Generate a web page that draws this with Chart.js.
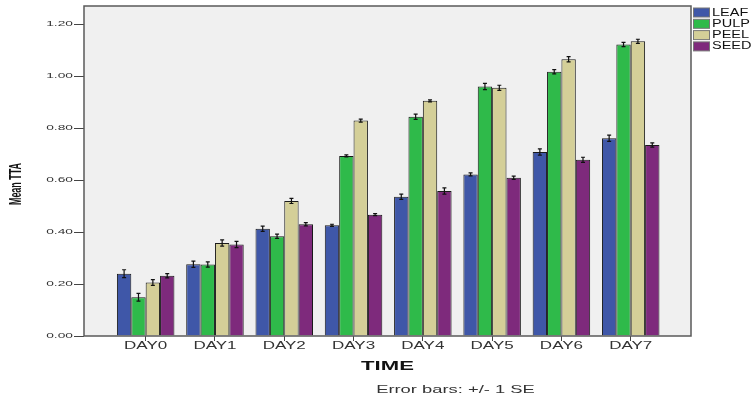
<!DOCTYPE html>
<html>
<head>
<meta charset="utf-8">
<script src="https://cdn.jsdelivr.net/npm/chart.js@4.4.1/dist/chart.umd.min.js"></script>
<style>
  body { margin: 0; background: #fff; }
  #wrap { width: 752px; height: 402px; }
</style>
</head>
<body>
<div id="wrap"><canvas id="myChart" width="752" height="402"></canvas></div>
<script>
// data
const days = ["DAY0", "DAY1", "DAY2", "DAY3", "DAY4", "DAY5", "DAY6", "DAY7"];
const seriesNames = ["LEAF", "PULP", "PEEL", "SEED"];
const leaf = [0.240, 0.276, 0.413, 0.426, 0.536, 0.622, 0.708, 0.761];
const pulp = [0.149, 0.275, 0.384, 0.693, 0.844, 0.960, 1.017, 1.122];
const peel = [0.206, 0.358, 0.520, 0.829, 0.905, 0.955, 1.065, 1.134];
const seed = [0.232, 0.352, 0.430, 0.467, 0.558, 0.609, 0.678, 0.735];
// standard errors (+/- 1 SE)
const leafSE = [0.015, 0.012, 0.010, 0.004, 0.010, 0.006, 0.012, 0.012];
const pulpSE = [0.015, 0.010, 0.008, 0.004, 0.010, 0.012, 0.008, 0.008];
const peelSE = [0.011, 0.012, 0.010, 0.006, 0.004, 0.010, 0.010, 0.008];
const seedSE = [0.008, 0.012, 0.006, 0.004, 0.012, 0.006, 0.010, 0.008];
const yTicks = [0, 0.2, 0.4, 0.6, 0.8, 1.0, 1.2];

const colors = ["#3f57a8", "#2fba4a", "#d4cf98", "#7e2a7c"];
const allValues = [leaf, pulp, peel, seed];
const allSE = [leafSE, pulpSE, peelSE, seedSE];

const FONT = "'Liberation Sans', Arial, sans-serif";
const STRETCH = 1.67; // the original text is drawn wide

function wideText(ctx, txt, x, y, font, sx, align, color) {
  ctx.save();
  ctx.font = font;
  ctx.fillStyle = color;
  ctx.textBaseline = "middle";
  ctx.textAlign = align;
  ctx.translate(x, y);
  ctx.scale(sx, 1);
  ctx.fillText(txt, 0, 0);
  ctx.restore();
}

// grey plot background
const plotBackground = {
  id: "plotBackground",
  beforeDraw(chart) {
    const { ctx, chartArea: a } = chart;
    ctx.save();
    ctx.fillStyle = "#f0f0f0";
    ctx.fillRect(a.left, a.top, a.right - a.left, a.bottom - a.top);
    ctx.restore();
  },
};

// error bars, frame, labels and legend
const extras = {
  id: "extras",
  afterDatasetsDraw(chart) {
    const { ctx } = chart;
    const yScale = chart.scales.y;
    ctx.save();
    ctx.strokeStyle = "#111";
    ctx.lineWidth = 1.2;
    allValues.forEach((vals, i) => {
      const meta = chart.getDatasetMeta(i);
      vals.forEach((v, j) => {
        const x = meta.data[j].x;
        const yt = yScale.getPixelForValue(v + allSE[i][j]);
        const yb = yScale.getPixelForValue(v - allSE[i][j]);
        ctx.beginPath();
        ctx.moveTo(x, yt); ctx.lineTo(x, yb);
        ctx.moveTo(x - 2, yt); ctx.lineTo(x + 2, yt);
        ctx.moveTo(x - 2, yb); ctx.lineTo(x + 2, yb);
        ctx.stroke();
      });
    });
    ctx.restore();
  },
  afterDraw(chart) {
    const { ctx, chartArea: a } = chart;
    const xScale = chart.scales.x;
    const yScale = chart.scales.y;

    // frame
    ctx.save();
    ctx.strokeStyle = "#5a5a5a";
    ctx.lineWidth = 1.5;
    ctx.strokeRect(a.left, a.top, a.right - a.left, a.bottom - a.top);
    ctx.restore();

    // tick labels
    yScale.ticks.forEach((t) => {
      wideText(ctx, t.value.toFixed(2), a.left - 11, yScale.getPixelForValue(t.value),
        "8px " + FONT, 1.72, "right", "#333");
    });
    xScale.ticks.forEach((t) => {
      wideText(ctx, days[t.value], xScale.getPixelForValue(t.value), a.bottom + 10,
        "10px " + FONT, 1.7, "center", "#333");
    });

    // titles
    const cx = (a.left + a.right) / 2;
    wideText(ctx, "TIME", cx, a.bottom + 30, "bold 13px " + FONT, 1.7, "center", "#111");
    wideText(ctx, "Error bars: +/- 1 SE", cx + 68, a.bottom + 54, "11px " + FONT, STRETCH, "center", "#333");

    ctx.save();
    ctx.translate(17, (a.top + a.bottom) / 2 + 13);
    ctx.rotate(-Math.PI / 2);
    ctx.scale(0.56, 1);
    ctx.font = "bold 16px " + FONT;
    ctx.fillStyle = "#111";
    ctx.textAlign = "center";
    ctx.textBaseline = "middle";
    ctx.fillText("Mean TTA", 0, 0);
    ctx.restore();

    // legend
    seriesNames.forEach((name, i) => {
      const top = a.top + 2 + i * 11.3;
      ctx.save();
      ctx.fillStyle = colors[i];
      ctx.fillRect(a.right + 2.5, top, 16, 9);
      ctx.strokeStyle = "#777";
      ctx.lineWidth = 1;
      ctx.strokeRect(a.right + 2.5, top, 16, 9);
      ctx.restore();
      wideText(ctx, name, a.right + 21, top + 4.8, "10px " + FONT, 1.45, "left", "#111");
    });
  },
};

const ctx = document.getElementById("myChart");

new Chart(ctx, {
  type: "bar",
  data: {
    datasets: seriesNames.map((name, i) => ({
      label: name,
      data: allValues[i].map((v, j) => ({ x: j, y: v })),
      backgroundColor: colors[i],
      borderColor: "#1a1a1a",
      borderWidth: 1,
      categoryPercentage: 0.83,
      barPercentage: 1.0,
    })),
  },
  options: {
    responsive: false,
    animation: false,
    devicePixelRatio: 1,
    layout: {
      padding: { top: 6, right: 61, left: 0, bottom: 0 },
    },
    plugins: {
      legend: { display: false },
      tooltip: { enabled: false },
    },
    scales: {
      x: {
        type: "linear",
        offset: false,
        min: -0.89,
        max: 7.87,
        ticks: { display: false, stepSize: 1 },
        afterBuildTicks: (scale) => {
          scale.ticks = days.map((d, i) => ({ value: i }));
        },
        afterFit: (scale) => { scale.height = 66; },
        grid: { offset: false, drawOnChartArea: false, drawTicks: true, tickLength: 5, color: "#444", lineWidth: 1 },
        border: { display: false },
      },
      y: {
        min: 0,
        max: 1.27,
        ticks: { display: false, stepSize: 0.2 },
        afterBuildTicks: (scale) => {
          scale.ticks = yTicks.map((v) => ({ value: v }));
        },
        afterFit: (scale) => { scale.width = 84; },
        grid: { drawOnChartArea: false, drawTicks: true, tickLength: 10, color: "#444", lineWidth: 1 },
        border: { display: false },
      },
    },
  },
  plugins: [plotBackground, extras],
});
</script>
</body>
</html>
